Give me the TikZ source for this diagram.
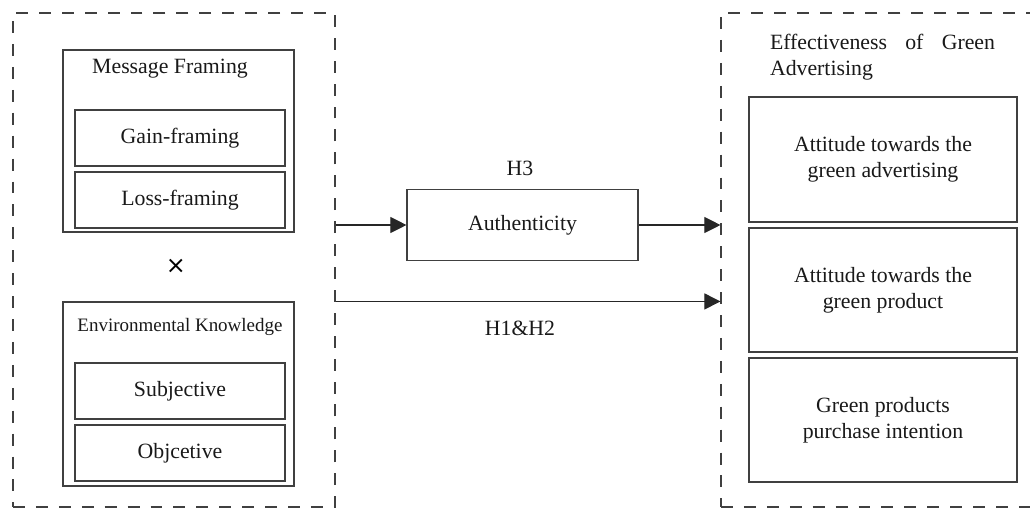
\documentclass[tikz,border=0pt]{standalone}
\usepackage{fontspec}
\setmainfont{Liberation Serif}
\newfontfamily\symfont{DejaVu Sans}
\usetikzlibrary{arrows.meta,positioning}
\newdimen\pxu \pxu=0.025cm
\tikzset{
	box/.style={draw=black!75, line width=0.8pt, inner sep=0pt, align=center, text=black!90, font=\fontsize{15.5}{18.5}\selectfont},
	dashframe/.style={draw=black!75, line width=0.8pt, dash pattern=on 8.5pt off 7.8pt, inner sep=0pt},
	lbl/.style={inner sep=0pt, text=black!90, font=\fontsize{15.5}{18.5}\selectfont},
	arr/.style={-{Triangle[length=11.4pt,width=11.4pt]}, line width=0.8pt, black!85},
}
\begin{document}
\begin{tikzpicture}[x=0.025cm,y=-0.025cm]
	\useasboundingbox (0,0) rectangle (1030,508);
	\clip (0,0) rectangle (1030,508);
	% dashed frames
	\node[dashframe, minimum width=322*\pxu, minimum height=494*\pxu] (lframe) at (174,260) {};
	\node[dashframe, minimum width=324*\pxu, minimum height=494*\pxu] (rframe) at (883,260) {};
	% message framing
	\node[box, minimum width=231*\pxu, minimum height=182*\pxu] (mf) at (178.5,141) {};
	\node[lbl] (mftitle) at (170,69) {Message Framing};
	\node[box, minimum width=210*\pxu, minimum height=56*\pxu] (gain) at (180,138) {Gain-framing};
	\node[box, minimum width=210*\pxu, minimum height=56*\pxu] (loss) at (180,200) {Loss-framing};
	\node[lbl, font=\symfont\fontsize{17}{20}\selectfont, text=black] (times) at (176,266) {×};
	% environmental knowledge
	\node[box, minimum width=231*\pxu, minimum height=184*\pxu] (envk) at (178.5,394) {};
	\node[lbl, font=\fontsize{13.5}{16}\selectfont] (envtitle) at (180,327) {Environmental Knowledge};
	\node[box, minimum width=210*\pxu, minimum height=56*\pxu] (subj) at (180,391) {Subjective};
	\node[box, minimum width=210*\pxu, minimum height=56*\pxu] (obj) at (180,453) {Objcetive};
	% mediator
	\node[box, minimum width=231*\pxu, minimum height=71*\pxu] (auth) at (522.5,225) {Authenticity};
	\node[lbl] (h3) at (520,168) {H3};
	\node[lbl] (h12) at (520,328) {H1\&H2};
	% effectiveness
	\node[lbl, text width=225*\pxu, align=justify] (efftitle) at (882.5,57) {\hyphenpenalty=10000 Effectiveness of Green Advertising};
	\node[box, minimum width=268*\pxu, minimum height=125*\pxu] (att1) at (883,159.5) {Attitude towards the\\green advertising};
	\node[box, minimum width=268*\pxu, minimum height=124*\pxu] (att2) at (883,290) {Attitude towards the\\green product};
	\node[box, minimum width=268*\pxu, minimum height=124*\pxu] (gpi) at (883,420) {Green products\\purchase intention};
	% paths
	\draw[arr] (auth.west -| lframe.east) -- (auth.west);
	\draw[arr] (auth.east) -- (auth.east -| rframe.west);
	\draw[arr] (envk.north -| lframe.east) -- (envk.north -| rframe.west);
\end{tikzpicture}
\end{document}
